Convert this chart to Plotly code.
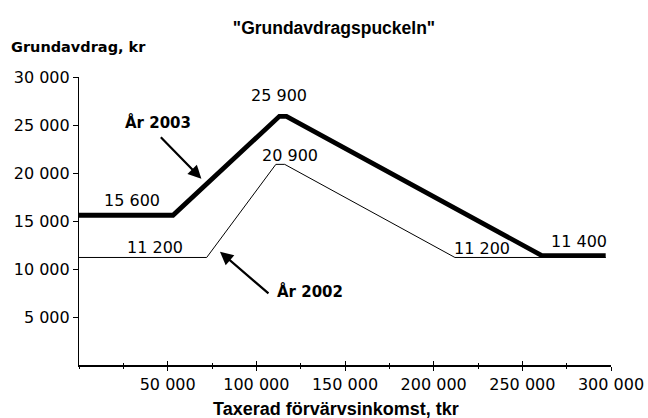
import plotly.graph_objects as go

# --- data ---
inc_2003 = [0, 53000, 113000, 117000, 261000, 297000]
ded_2003 = [15600, 15600, 25900, 25900, 11400, 11400]
inc_2002 = [0, 72000, 111000, 116000, 212000, 297000]
ded_2002 = [11200, 11200, 20900, 20900, 11200, 11200]

x_tickvals = [50000, 100000, 150000, 200000, 250000, 300000]
x_ticktext = ["50 000", "100 000", "150 000", "200 000", "250 000", "300 000"]
y_tickvals = [5000, 10000, 15000, 20000, 25000, 30000]
y_ticktext = ["5 000", "10 000", "15 000", "20 000", "25 000", "30 000"]

def fmt(v):
    return f"{v:,}".replace(",", " ")

FONT = "DejaVu Sans"

fig = go.Figure()
fig.add_trace(go.Scatter(x=inc_2002, y=ded_2002, mode="lines",
                         line=dict(color="black", width=1), showlegend=False,
                         hoverinfo="skip"))
fig.add_trace(go.Scatter(x=inc_2003, y=ded_2003, mode="lines",
                         line=dict(color="black", width=4.8), showlegend=False,
                         hoverinfo="skip"))
# invisible trace for inside ticks axis
fig.add_trace(go.Scatter(x=[0], y=[0], xaxis="x2", mode="markers",
                         marker=dict(opacity=0), showlegend=False, hoverinfo="skip"))

annotations = []
# value labels anchored to data points
label_specs = [
    (inc_2003[2], ded_2003[2], 0, 21),
    (inc_2002[2], ded_2002[2], 14, 9),
    (inc_2003[1], ded_2003[1], -41, 15),
    (inc_2002[1], ded_2002[1], -52, 10),
    (inc_2002[4], ded_2002[4], 27, 9),
    (inc_2003[4], ded_2003[4], 37, 14),
]
for x, y, xs, ys in label_specs:
    annotations.append(dict(x=x, y=y, xref="x", yref="y", text=fmt(y),
                            showarrow=False, xshift=xs, yshift=ys,
                            font=dict(family=FONT, size=16, color="black")))

# arrows
annotations.append(dict(x=69000, y=19400, xref="x", yref="y", text="",
                        showarrow=True, ax=-42, ay=-43, arrowhead=2,
                        arrowsize=1.2, arrowwidth=2.2, arrowcolor="black"))
annotations.append(dict(x=inc_2003[1], y=ded_2003[1], xref="x", yref="y",
                        text="<b>År 2003</b>", showarrow=False,
                        xshift=-15, yshift=93,
                        font=dict(family=FONT, size=15, color="black")))
annotations.append(dict(x=79500, y=11800, xref="x", yref="y", text="",
                        showarrow=True, ax=50, ay=43, arrowhead=2,
                        arrowsize=1.2, arrowwidth=2.2, arrowcolor="black"))
annotations.append(dict(x=inc_2002[1], y=ded_2002[1], xref="x", yref="y",
                        text="<b>År 2002</b>", showarrow=False,
                        xshift=103, yshift=-34,
                        font=dict(family=FONT, size=15, color="black")))
# y-axis title
annotations.append(dict(x=0, y=1.0, xref="paper", yref="paper",
                        text="<b>Grundavdrag, kr</b>", showarrow=False,
                        xanchor="left", yanchor="middle", xshift=-70, yshift=30,
                        font=dict(family=FONT, size=14.5, color="black")))
# x-axis title
annotations.append(dict(x=0.5, y=0, xref="paper", yref="paper",
                        text="<b>Taxerad förvärvsinkomst, tkr</b>", showarrow=False,
                        xanchor="center", yanchor="middle", yshift=-44, xshift=-9,
                        font=dict(family="Liberation Sans", size=18, color="black")))

fig.update_layout(
    width=648, height=418,
    margin=dict(l=79, r=37, t=77, b=53),
    paper_bgcolor="white", plot_bgcolor="white",
    title=dict(text='<b>"Grundavdragspuckeln"</b>', x=334 / 648, xanchor="center",
               y=1 - 28 / 418, yanchor="middle",
               font=dict(family="Liberation Sans", size=17.5, color="black")),
    xaxis=dict(range=[0, 300000], showgrid=False, zeroline=False, automargin=False,
               showline=True, linecolor="black", linewidth=1.5,
               tickvals=x_tickvals, ticktext=x_ticktext,
               ticks="outside", ticklen=4, tickwidth=1, tickcolor="black",
               minor=dict(dtick=25000, tick0=0, ticks="outside", ticklen=2.5,
                          tickcolor="black", tickwidth=1),
               tickfont=dict(family=FONT, size=16, color="black")),
    xaxis2=dict(range=[0, 300000], overlaying="x", anchor="y", side="bottom",
                showgrid=False, zeroline=False, showline=False, automargin=False,
                tickvals=[0] + x_tickvals, showticklabels=False,
                ticks="inside", ticklen=4, tickwidth=1, tickcolor="black",
                minor=dict(dtick=25000, tick0=0, ticks="inside", ticklen=2.5,
                           tickcolor="black", tickwidth=1)),
    yaxis=dict(range=[0, 30000], showgrid=False, zeroline=False, automargin=False,
               showline=True, linecolor="black", linewidth=1.2,
               tickvals=y_tickvals, ticktext=y_ticktext,
               ticks="outside", ticklen=5, tickwidth=1, tickcolor="black",
               tickfont=dict(family=FONT, size=16, color="black")),
    annotations=annotations,
)

fig.write_html("out.html", config={"displayModeBar": False},
               post_script="document.body.style.margin='0px';document.body.style.overflow='hidden';")
